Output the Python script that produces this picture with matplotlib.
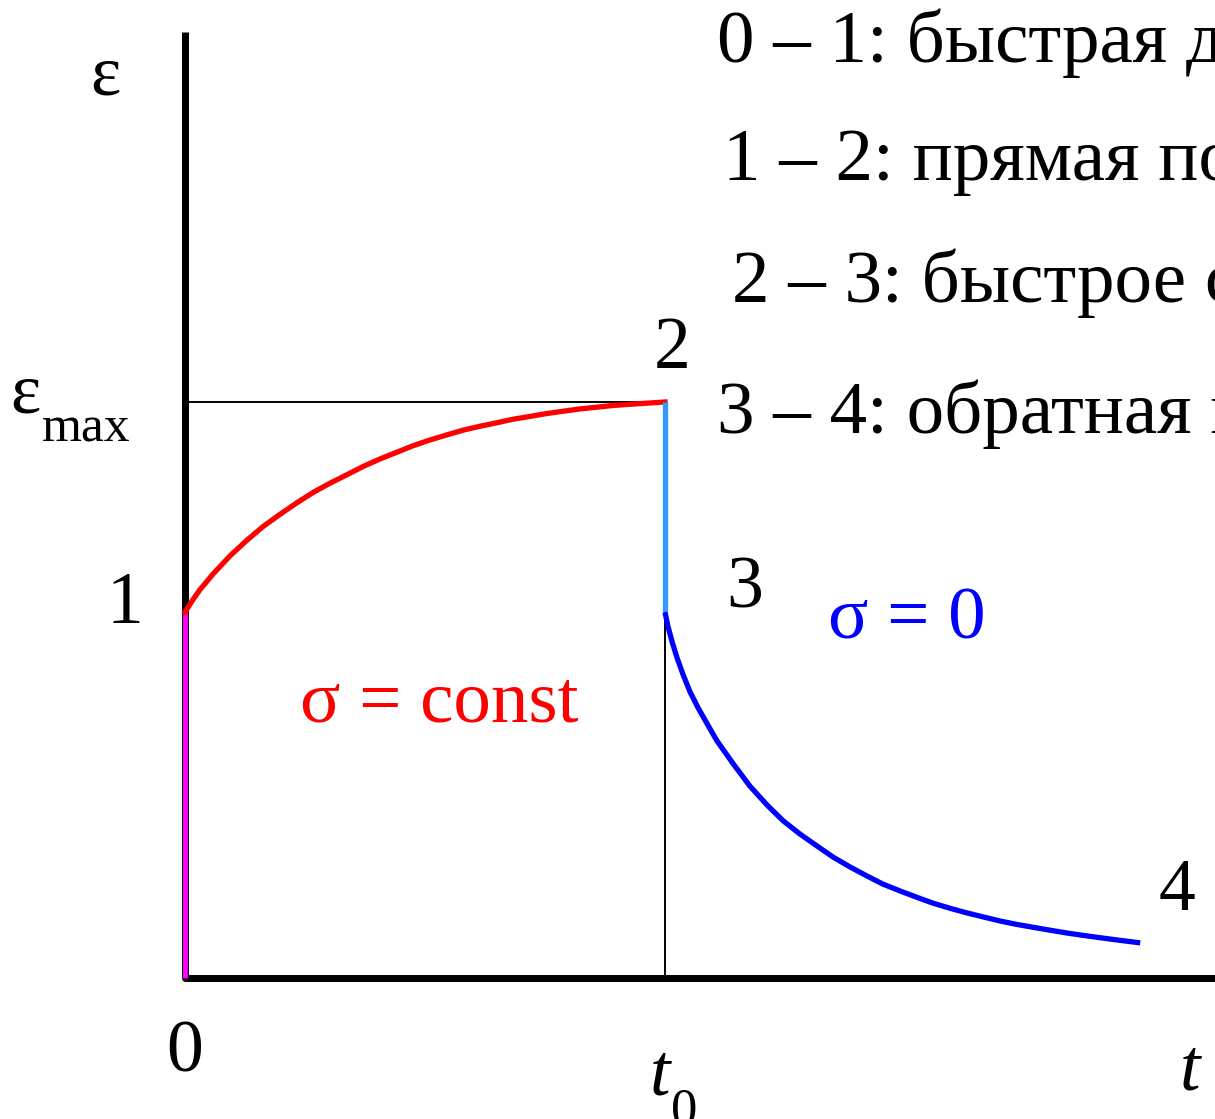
import matplotlib.pyplot as plt
import numpy as np

plt.rcParams['font.family'] = ['Liberation Serif', 'DejaVu Serif']

# время в долях t0, деформация в долях eps_max
t_load = [0.0, 0.0]
eps_load = [0.0, 0.635]

t_creep = [0.0, 0.015, 0.031, 0.058, 0.094, 0.129, 0.163, 0.198, 0.233,
           0.267, 0.302, 0.338, 0.371, 0.406, 0.442, 0.475, 0.510, 0.546,
           0.579, 0.615, 0.650, 0.683, 0.719, 0.754, 0.788, 0.823, 0.858,
           0.892, 0.927, 0.963, 1.0]
eps_creep = [0.635, 0.655, 0.674, 0.701, 0.733, 0.760, 0.784, 0.805, 0.825,
             0.843, 0.859, 0.874, 0.888, 0.901, 0.913, 0.924, 0.934, 0.943,
             0.951, 0.958, 0.964, 0.970, 0.975, 0.980, 0.984, 0.988, 0.991,
             0.994, 0.996, 0.998, 1.0]

t_unload = [1.0, 1.0]
eps_unload = [1.0, 0.635]

t_recov = [1.0, 1.006, 1.015, 1.025, 1.038, 1.052, 1.069, 1.088, 1.108,
           1.142, 1.177, 1.213, 1.246, 1.281, 1.317, 1.350, 1.385, 1.421,
           1.454, 1.490, 1.525, 1.558, 1.594, 1.629, 1.663, 1.698, 1.733,
           1.767, 1.802, 1.838, 1.871, 1.906, 1.942, 1.990]
eps_recov = [0.635, 0.611, 0.583, 0.556, 0.526, 0.497, 0.469, 0.441, 0.412,
             0.372, 0.333, 0.300, 0.273, 0.250, 0.229, 0.210, 0.193, 0.177,
             0.163, 0.151, 0.140, 0.130, 0.121, 0.113, 0.106, 0.099, 0.093,
             0.088, 0.083, 0.078, 0.074, 0.070, 0.066, 0.061]

stages = ['0 – 1: быстрая деформация',
          '1 – 2: прямая ползучесть',
          '2 – 3: быстрое сокращение',
          '3 – 4: обратная ползучесть']

fig = plt.figure(figsize=(12.15, 11.19), dpi=100)
ax = fig.add_axes([0, 0, 1, 1])
ax.set_xlim(-0.3854, 2.1458)
ax.set_ylim(-0.2448, 1.6979)
ax.axis('off')

# оси
ax.plot([0, 0], [0, 1.642], color='black', lw=5.0, solid_capstyle='butt')
ax.plot([0, 2.3], [0, 0], color='black', lw=5.0, solid_capstyle='round')

# вспомогательные тонкие линии
ax.plot([0, 1.0], [1.0, 1.0], color='black', lw=1.4)
ax.plot([1.0, 1.0], [0, 0.635], color='black', lw=1.4)

# участки кривой
ax.plot(t_load, eps_load, color='#ff00ff', lw=3.5, solid_capstyle='butt')
ax.plot(t_creep, eps_creep, color='#ff0000', lw=3.8, solid_joinstyle='round')
ax.plot(t_unload, eps_unload, color='#3399ff', lw=3.8, solid_capstyle='butt')
ax.plot(t_recov, eps_recov, color='#0000ff', lw=3.8, solid_capstyle='butt',
        solid_joinstyle='round')

# подписи этапов
stage_x = [1.108, 1.121, 1.140, 1.108]
stage_y = [1.590, 1.385, 1.174, 0.946]
for s, x, y in zip(stages, stage_x, stage_y):
    ax.text(x, y, s, fontsize=54, ha='left', va='baseline', clip_on=False)

# номера точек
ax.text(-0.125, 0.617, '1', fontsize=53, ha='center', va='baseline')
ax.text(1.015, 1.059, '2', fontsize=53, ha='center', va='baseline')
ax.text(1.167, 0.644, '3', fontsize=53, ha='center', va='baseline')
ax.text(2.067, 0.118, '4', fontsize=53, ha='center', va='baseline')
ax.text(0.0, -0.1615, '0', fontsize=53, ha='center', va='baseline')

# обозначения осей
ax.text(-0.198, 1.533, 'ε', fontsize=52, ha='left', va='baseline')
ax.text(-0.365, 0.981, 'ε', fontsize=52, ha='left', va='baseline')
ax.text(-0.298, 0.931, 'max', fontsize=37, ha='left', va='baseline')
ax.text(0.99, -0.203, 't', fontsize=53, style='italic', ha='center',
        va='baseline')
ax.text(1.040, -0.255, '0', fontsize=38, ha='center', va='baseline')
ax.text(2.094, -0.194, 't', fontsize=53, style='italic', ha='center',
        va='baseline')

# напряжения
ax.text(0.24, 0.445, 'σ = const', fontsize=54, color='#ff0000',
        ha='left', va='baseline')
ax.text(1.34, 0.59, 'σ = 0', fontsize=54, color='#0000ff',
        ha='left', va='baseline')

fig.savefig('out.png', dpi=100)
